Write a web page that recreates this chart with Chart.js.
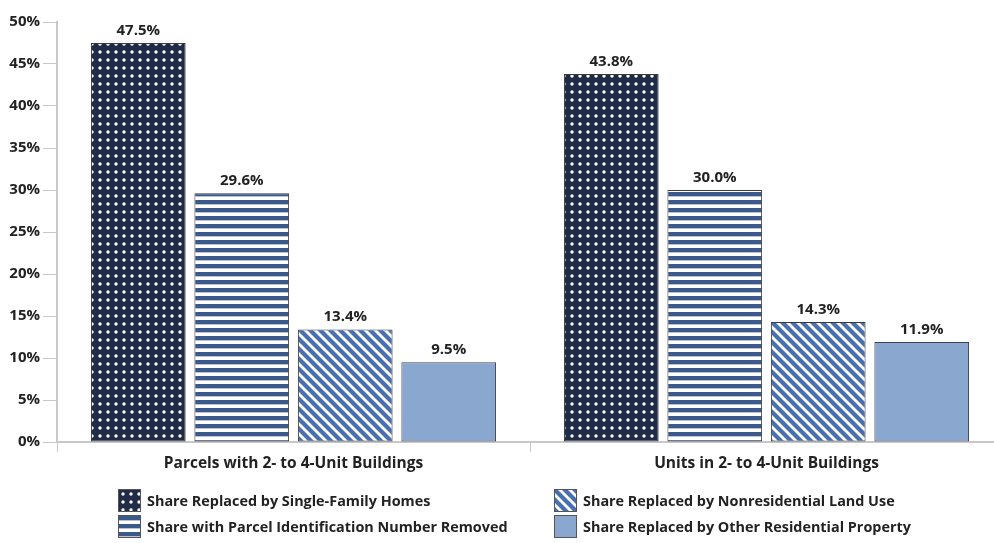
<!DOCTYPE html>
<html>
<head>
<meta charset="utf-8">
<script src="https://cdn.jsdelivr.net/npm/chart.js@4"></script>
<style>
  html, body { margin: 0; padding: 0; background: #fff; overflow: hidden; }
  #wrap { position: relative; width: 1003px; height: 543px; }
  #legend { position: absolute; left: 118px; top: 489px; font: bold 14.4px "Open Sans", sans-serif; color: #222; }
  .item { position: absolute; white-space: nowrap; display: flex; align-items: center; }
  .item canvas { border: 1px solid #555; box-sizing: border-box; margin-right: 6px; }
</style>
</head>
<body>
<div id="wrap">
  <canvas id="chartShares" width="1003" height="543"></canvas>
  <div id="legend"></div>
</div>
<script>
const categories = ['Parcels with 2- to 4-Unit Buildings', 'Units in 2- to 4-Unit Buildings'];
const seriesNames = [
    'Share Replaced by Single-Family Homes',
    'Share with Parcel Identification Number Removed',
    'Share Replaced by Nonresidential Land Use',
    'Share Replaced by Other Residential Property'
];
const singleFamily = [47.5, 43.8];
const pinRemoved = [29.6, 30.0];
const nonresidential = [13.4, 14.3];
const otherResidential = [9.5, 11.9];
const yTicks = [0, 5, 10, 15, 20, 25, 30, 35, 40, 45, 50];

const navy = '#1f2b47';
const stripeBlue = '#3b5a8a';
const diagBlue = '#4870b0';
const lightBlue = '#8aa7d0';

function makeTile(w, h, draw) {
    const c = document.createElement('canvas');
    c.width = w;
    c.height = h;
    draw(c.getContext('2d'), w, h);
    return c;
}

function dotTile() {
    return makeTile(8, 8, (g) => {
        g.fillStyle = navy;
        g.fillRect(0, 0, 8, 8);
        g.fillStyle = '#fff';
        g.beginPath();
        g.arc(4, 4, 1.7, 0, Math.PI * 2);
        g.fill();
    });
}

function hStripeTile() {
    return makeTile(8, 8, (g) => {
        g.fillStyle = '#fff';
        g.fillRect(0, 0, 8, 8);
        g.fillStyle = stripeBlue;
        g.fillRect(0, 0, 8, 4);
        g.fillStyle = '#b9c3d3';
        g.fillRect(0, 4, 8, 1);
    });
}

function diagTile() {
    return makeTile(10, 10, (g) => {
        g.fillStyle = '#fff';
        g.fillRect(0, 0, 10, 10);
        g.strokeStyle = diagBlue;
        g.lineWidth = 4.2;
        for (let k = -10; k <= 20; k += 10) {
            g.beginPath();
            g.moveTo(k - 10, -10);
            g.lineTo(k + 20, 20);
            g.stroke();
        }
    });
}

const ctx = document.getElementById('chartShares').getContext('2d');
const tiles = [dotTile(), hStripeTile(), diagTile(), null];
const fills = tiles.map(t => t ? ctx.createPattern(t, 'repeat') : lightBlue);
const values = [singleFamily, pinRemoved, nonresidential, otherResidential];

// value labels above each bar
const barLabels = {
    id: 'barLabels',
    afterDatasetsDraw(chart) {
        const c = chart.ctx;
        c.save();
        c.font = 'bold 15px "Open Sans", sans-serif';
        c.fillStyle = '#222';
        c.textAlign = 'center';
        c.textBaseline = 'bottom';
        chart.data.datasets.forEach((ds, i) => {
            chart.getDatasetMeta(i).data.forEach((bar, j) => {
                c.fillText(ds.data[j].toFixed(1) + '%', bar.x, bar.y - 5);
            });
        });
        c.restore();
    }
};

const myChart = new Chart(ctx, {
    type: 'bar',
    data: {
        labels: categories,
        datasets: values.map((v, i) => ({
            label: seriesNames[i],
            data: v,
            backgroundColor: fills[i],
            borderColor: i === 3 ? '#3d4258' : '#3a3a3a',
            borderWidth: 1,
            borderSkipped: false,
            categoryPercentage: 0.875,
            barPercentage: 0.915
        }))
    },
    options: {
        responsive: false,
        animation: false,
        layout: { padding: { top: 22, right: 0, bottom: 71, left: 0 } },
        plugins: {
            legend: { display: false },
            tooltip: { enabled: false }
        },
        scales: {
            x: {
                grid: { drawOnChartArea: false, drawTicks: true, tickLength: 10, color: '#c8c8c8', offset: true },
                border: { color: '#c8c8c8', width: 2 },
                ticks: {
                    color: '#222',
                    padding: 2,
                    font: { family: '"Open Sans", sans-serif', size: 15.5, weight: 'bold' }
                },
                afterFit(scale) { scale.height = 30; }
            },
            y: {
                min: 0,
                max: 50,
                afterBuildTicks(scale) { scale.ticks = yTicks.map(v => ({ value: v })); },
                grid: { drawOnChartArea: false, drawTicks: true, tickLength: 14, color: '#c8c8c8' },
                border: { color: '#c8c8c8', width: 2 },
                ticks: {
                    color: '#222',
                    padding: 3,
                    callback: (v) => v + '%',
                    font: { family: '"Open Sans", sans-serif', size: 15, weight: 'bold' }
                },
                afterFit(scale) { scale.width = 57; }
            }
        }
    },
    plugins: [barLabels]
});

// two-column legend, column-major order
const legend = document.getElementById('legend');
const spots = [[0, 0], [0, 26], [436, 0], [436, 26]];
seriesNames.forEach((name, i) => {
    const item = document.createElement('div');
    item.className = 'item';
    item.style.left = spots[i][0] + 'px';
    item.style.top = spots[i][1] + 'px';
    const sw = document.createElement('canvas');
    sw.width = 21;
    sw.height = 21;
    const g = sw.getContext('2d');
    g.fillStyle = tiles[i] ? g.createPattern(tiles[i], 'repeat') : lightBlue;
    g.fillRect(0, 0, 21, 21);
    item.appendChild(sw);
    const t = document.createElement('span');
    t.textContent = name;
    item.appendChild(t);
    legend.appendChild(item);
});
</script>
</body>
</html>
